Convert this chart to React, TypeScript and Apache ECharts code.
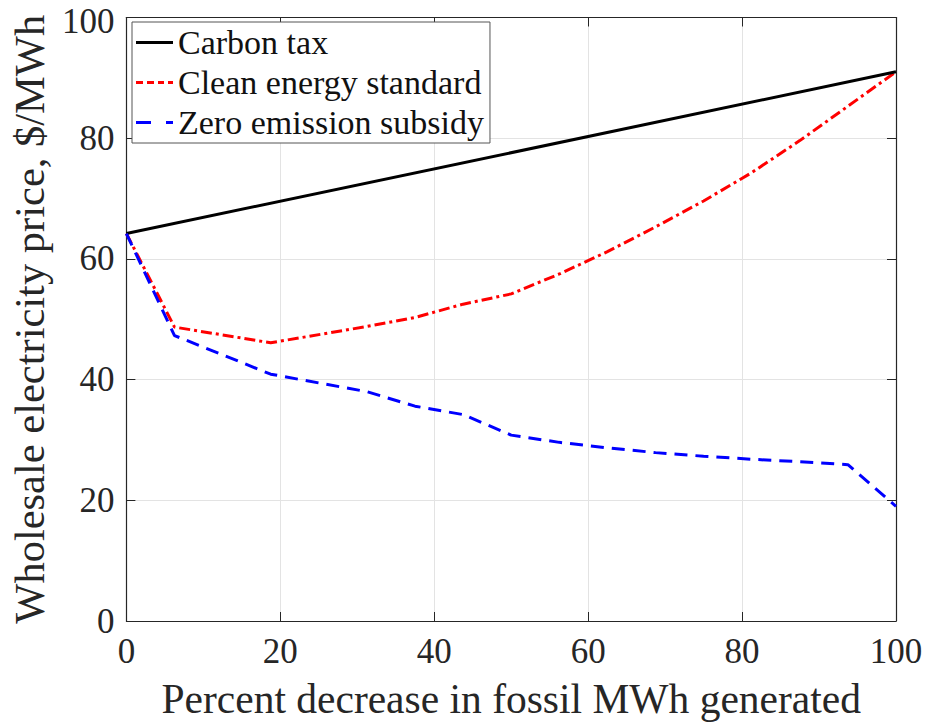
import React, { useEffect, useRef } from "react";
import * as echarts from "echarts";

const xValues = [0, 6.25, 18.75, 31.25, 37.5, 43.75, 50, 56.25, 62.5, 68.75, 75, 81.25, 87.5, 93.75, 100];
const carbonX = [0, 100];
const carbonY = [64.2, 91.0];
const cleanEnergy = [64.2, 48.7, 46.1, 48.8, 50.3, 52.5, 54.2, 57.5, 61.2, 65.3, 69.6, 74.3, 79.6, 85.3, 91.0];
const zeroEmission = [64.2, 47.3, 40.9, 38.0, 35.6, 34.2, 30.8, 29.6, 28.7, 27.9, 27.3, 26.8, 26.4, 25.9, 19.0];
const seriesNames = ["Carbon tax", "Clean energy standard", "Zero emission subsidy"];

const FONT = "Liberation Serif";

const legendIcons = [
  "path://M0,0h37v3h-37z",
  "path://M0,0h7v3h-7z M11,0h7v3h-7z M22,0h6v3h-6z M32,0h5v3h-5z",
  "path://M0,0h15v3h-15z M30,0h7v3h-7z",
];

export default function App() {
  const ref = useRef<HTMLDivElement>(null);
  useEffect(() => {
    if (!ref.current) return;
    const chart = echarts.init(ref.current, null, { renderer: "svg" });
    const axisCommon = {
      type: "value" as const,
      min: 0,
      max: 100,
      interval: 20,
      axisLine: { show: true, onZero: false, lineStyle: { color: "#262626", width: 1.2 } },
      axisTick: { show: true, inside: true, length: 9, lineStyle: { color: "#262626", width: 1 } },
      splitLine: { show: true, lineStyle: { color: "#e3e3e3", width: 1 } },
    };
    chart.setOption({
      animation: false,
      backgroundColor: "#ffffff",
      grid: { left: 122, right: 32, top: 17.5, bottom: 99.5, containLabel: false },
      legend: {
        data: seriesNames.map((n, i) => ({ name: n, icon: legendIcons[i] })),
        orient: "vertical",
        left: 132,
        top: 22,
        padding: [3.5, 6, 3.5, 4],
        itemWidth: 37,
        itemHeight: 3,
        itemGap: 6,
        backgroundColor: "#ffffff",
        borderColor: "#555555",
        borderWidth: 1,
        textStyle: { fontFamily: FONT, fontSize: 34, lineHeight: 33, color: "#111111" },
      },
      xAxis: [
        {
          ...axisCommon,
          position: "bottom",
          name: "Percent decrease in fossil MWh generated",
          nameLocation: "middle",
          nameGap: 57,
          nameTextStyle: { fontFamily: FONT, fontSize: 41.5, color: "#262626" },
          axisLabel: { fontFamily: FONT, fontSize: 35, color: "#262626", margin: 13 },
        },
        {
          ...axisCommon,
          position: "top",
          axisLabel: { show: false },
          splitLine: { show: false },
        },
      ],
      yAxis: [
        {
          ...axisCommon,
          position: "left",
          name: "Wholesale electricity price, $/MWh",
          nameLocation: "middle",
          nameGap: 74,
          nameTextStyle: { fontFamily: FONT, fontSize: 42.5, color: "#262626" },
          axisLabel: {
            fontFamily: FONT,
            fontSize: 35,
            color: "#262626",
            margin: 12,
            formatter: (v: number) => (v === 100 ? `{top|${v}}` : `${v}`),
            rich: {
              top: { fontFamily: FONT, fontSize: 35, color: "#262626", padding: [8, 0, 0, 0] },
            },
          },
        },
        {
          ...axisCommon,
          position: "right",
          axisLabel: { show: false },
          splitLine: { show: false },
        },
      ],
      series: [
        {
          name: seriesNames[0],
          type: "line",
          data: carbonX.map((x, i) => [x, carbonY[i]]),
          symbol: "none",
          itemStyle: { color: "#000000" },
          lineStyle: { color: "#000000", width: 3, type: "solid" },
          z: 3,
        },
        {
          name: seriesNames[1],
          type: "line",
          data: xValues.map((x, i) => [x, cleanEnergy[i]]),
          symbol: "none",
          itemStyle: { color: "#ff0000" },
          lineStyle: { color: "#ff0000", width: 3, type: [11, 4, 3, 4] },
          z: 2,
        },
        {
          name: seriesNames[2],
          type: "line",
          data: xValues.map((x, i) => [x, zeroEmission[i]]),
          symbol: "none",
          itemStyle: { color: "#0000ff" },
          lineStyle: { color: "#0000ff", width: 3, type: [13, 8] },
          z: 4,
        },
      ],
    });
    return () => chart.dispose();
  }, []);
  return (
    <div
      ref={ref}
      style={{ position: "absolute", left: 0, top: 0, width: 928, height: 725 }}
    />
  );
}
